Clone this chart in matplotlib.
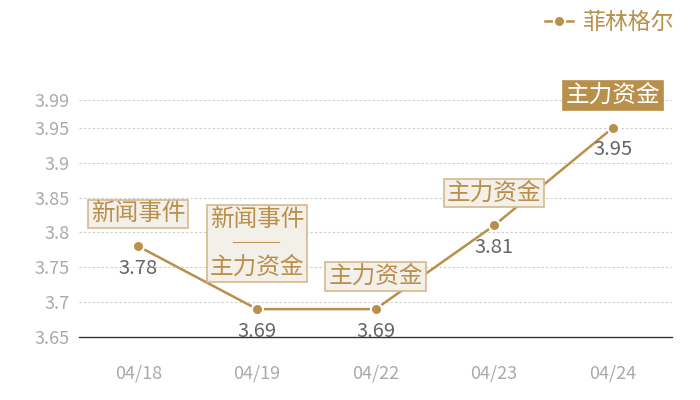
import matplotlib
matplotlib.use('Agg')
import matplotlib.pyplot as plt
from matplotlib.transforms import offset_copy

plt.rcParams['font.family'] = ['Noto Sans CJK SC', 'DejaVu Sans']

# 데이터
dates = ['04/18', '04/19', '04/22', '04/23', '04/24']
prices = [3.78, 3.69, 3.69, 3.81, 3.95]
tags = ['新闻事件', '新闻事件\n\u2500\u2500\n主力资金', '主力资金', '主力资金', '主力资金']
yticks = [3.65, 3.7, 3.75, 3.8, 3.85, 3.9, 3.95, 3.99]
series_name = '菲林格尔'

gold = '#b8904c'
box_fill = '#f3efe9'
box_edge = '#d4b98c'

fig = plt.figure(figsize=(7, 4), dpi=100)
ax = fig.add_axes([0.113, 0.1575, 0.847, 0.5925])

x = list(range(len(dates)))
ax.plot(x, prices, color=gold, lw=1.8, marker='o', ms=8,
        markerfacecolor=gold, markeredgecolor='white', markeredgewidth=1.5,
        label=series_name, zorder=3)

ax.set_xlim(-0.5, len(dates) - 0.5)
ax.set_ylim(3.65, 3.99)
ax.set_yticks(yticks)
ax.set_yticklabels([f'{v:g}' for v in yticks])
ax.set_xticks(x)
ax.set_xticklabels(dates)

ax.tick_params(axis='y', length=0, pad=7, labelsize=13, colors='#aaaaaa')
ax.tick_params(axis='x', length=0, pad=20, labelsize=13, colors='#aaaaaa')
for s in ['top', 'right', 'left']:
    ax.spines[s].set_visible(False)
ax.spines['bottom'].set_color('#333333')
ax.spines['bottom'].set_linewidth(1)
ax.spines['bottom'].set_zorder(6)

for t in yticks[1:]:
    ax.axhline(t, color='#cccccc', lw=0.8, ls=(0, (2, 2)), zorder=0)

# 값 라벨 (플롯 영역 밖은 잘림)
below = offset_copy(ax.transData, fig=fig, x=0, y=-22, units='dots')
for i, p in enumerate(prices):
    ax.text(i, p, f'{p:g}', transform=below, ha='center', va='center',
            fontsize=14.5, color='#666666', clip_on=True, zorder=4)

# 태그 박스
for i, (p, tag) in enumerate(zip(prices, tags)):
    last = i == len(prices) - 1
    off = 30 if '\n' in tag else 21
    ax.annotate(tag, (i, p), xytext=(0, off), textcoords='offset pixels',
                ha='center', va='bottom', fontsize=17,
                color='white' if last else gold, linespacing=1.05,
                bbox=dict(boxstyle='square,pad=0.12',
                          fc=gold if last else box_fill,
                          ec=gold if last else box_edge, lw=1.2),
                annotation_clip=False, zorder=5)

leg = ax.legend(loc='upper right', bbox_to_anchor=(0.975, 0.995),
                bbox_transform=fig.transFigure, frameon=False,
                fontsize=16.5, handlelength=1.2, handletextpad=0.4,
                borderaxespad=0)
for txt in leg.get_texts():
    txt.set_color(gold)

fig.savefig('out.png', dpi=100)
